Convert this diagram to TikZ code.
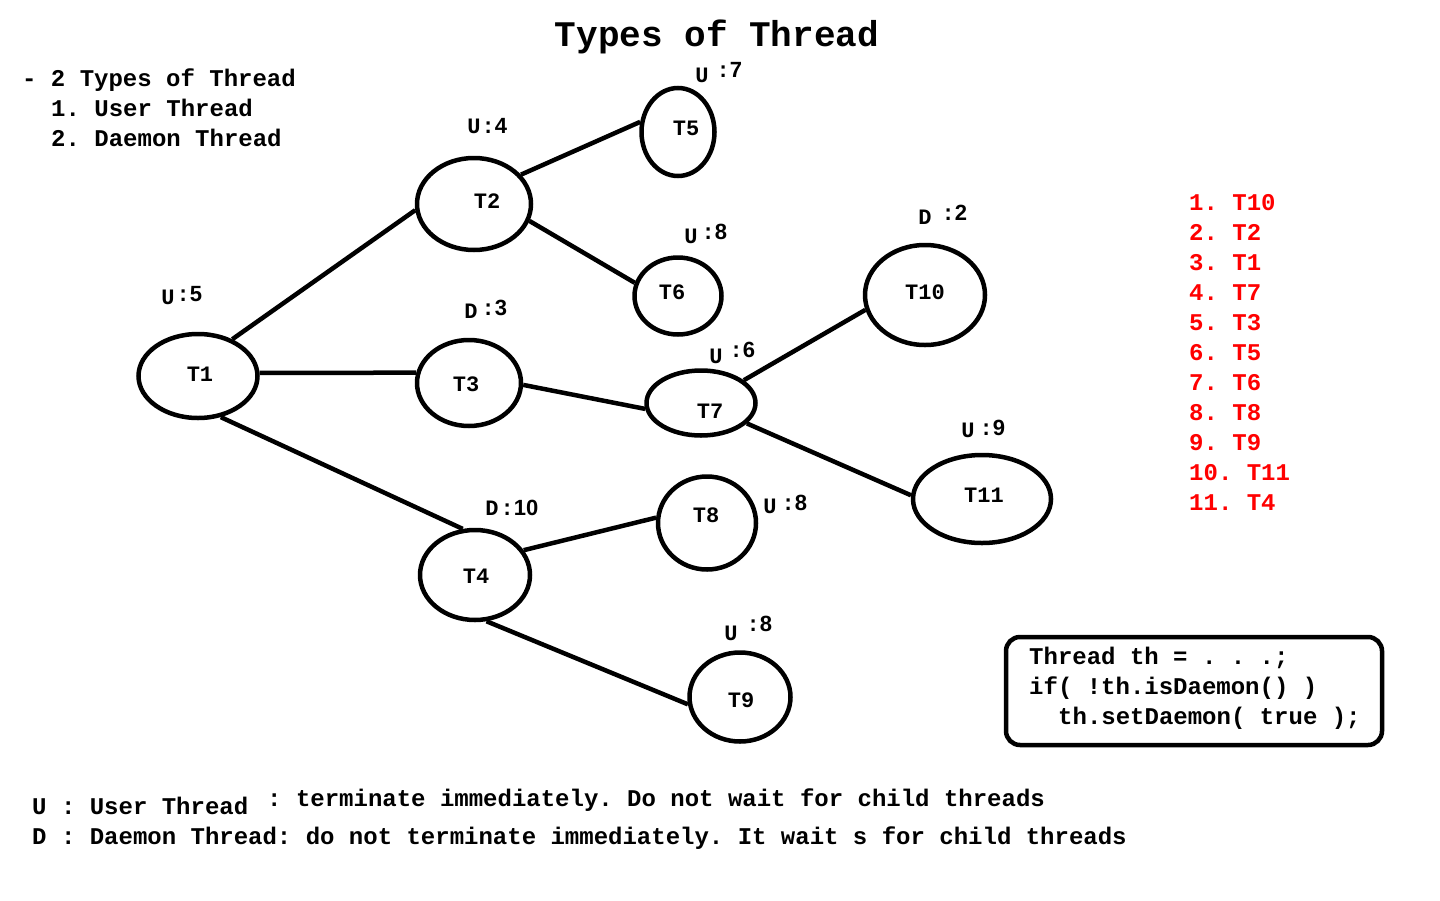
\documentclass[tikz,border=0pt]{standalone}
\usepackage{fontspec}
\setmainfont{Liberation Mono}
\newfontfamily\digitfont{Liberation Sans}
\usetikzlibrary{shapes.geometric}
\frenchspacing
\tikzset{
  thread/.style={draw, ellipse, line width=4.5pt, inner sep=0pt},
  conn/.style={line width=4.5pt},
  txt/.style={inner sep=0pt, anchor=base west, font=\bfseries\fontsize{24}{28}\selectfont},
  redtxt/.style={txt, text=red},
  tname/.style={inner sep=0pt, font=\bfseries\fontsize{22}{26}\selectfont},
  tletter/.style={inner sep=0pt, font=\bfseries\fontsize{22}{26}\selectfont},
  tnum/.style={inner sep=0pt, anchor=west, font=\bfseries\fontsize{22}{26}\selectfont},
  codebox/.style={draw, rounded corners=14pt, line width=4.5pt, inner sep=0pt},
}
\newcommand\numlab[1]{:{\digitfont\bfseries #1}}
\begin{document}
\begin{tikzpicture}[x=1pt, y=-1pt]
\fill[white] (0,0) rectangle (1440,900);
\useasboundingbox (0,0) rectangle (1440,900);

% title and intro
\node[inner sep=0pt, anchor=base, font=\bfseries\fontsize{36}{40}\selectfont] (title) at (717,46) {Types of Thread};
\node[txt] (intro0) at (22,86) {- 2 Types of Thread};
\node[txt] (intro1) at (51,116) {1. User Thread};
\node[txt] (intro2) at (51,146) {2. Daemon Thread};

% threads
\node[thread, minimum width=119pt, minimum height=84pt] (t1) at (198,376) {};
\node[thread, minimum width=114pt, minimum height=92pt] (t2) at (474,204) {};
\node[thread, minimum width=104pt, minimum height=86pt] (t3) at (469,383) {};
\node[thread, minimum width=110pt, minimum height=90pt] (t4) at (475,575) {};
\node[thread, minimum width=73pt, minimum height=88pt] (t5) at (678,132) {};
\node[thread, minimum width=87pt, minimum height=77pt] (t6) at (678,296) {};
\node[thread, minimum width=109pt, minimum height=65pt] (t7) at (701,403) {};
\node[thread, minimum width=98pt, minimum height=93pt] (t8) at (707,523) {};
\node[thread, minimum width=101pt, minimum height=89pt] (t9) at (740,697) {};
\node[thread, minimum width=120pt, minimum height=100pt] (t10) at (925,295) {};
\node[thread, minimum width=138pt, minimum height=88pt] (t11) at (982,499) {};

\node[tname] (n1) at (200,374) {T1};
\node[tname] (n2) at (487,201) {T2};
\node[tname] (n3) at (466,384) {T3};
\node[tname] (n4) at (476,576) {T4};
\node[tname] (n5) at (686,128) {T5};
\node[tname] (n6) at (672,292) {T6};
\node[tname] (n7) at (710,411) {T7};
\node[tname] (n8) at (706,515) {T8};
\node[tname] (n9) at (741,700) {T9};
\node[tname] (n10) at (925,292) {T10};
\node[tname] (n11) at (984,495) {T11};

% connectors
\draw[conn] (t1.47) -- (t2.186);
\draw[conn] (t1.3) -- (t3.169);
\draw[conn] (t1.-61) -- (t4.105);
\draw[conn] (t2.32) -- (t5.165);
\draw[conn] (t2.-17) -- (t6.163);
\draw[conn] (t3.-2) -- (t7.186);
\draw[conn] (t7.28) -- (t10.194);
\draw[conn] (t7.-24) -- (t11.177);
\draw[conn] (t4.27) -- (t8.174);
\draw[conn] (t4.-76) -- (t9.188);

% type / priority labels
\node[tletter] (k1) at (168,297) {U};   \node[tnum] (p1) at (176.4,294) {\numlab{5}};
\node[tletter] (k2) at (474,126) {U};   \node[tnum] (p2) at (481.4,126) {\numlab{4}};
\node[tletter] (k3) at (471,311) {D};   \node[tnum] (p3) at (481.4,308) {\numlab{3}};
\node[tletter] (k4) at (492,508) {D};   \node[tnum] (p4) at (500.4,508) {\numlab{10}};
\node[tletter] (k5) at (702,75) {U};    \node[tnum] (p5) at (716.4,70) {\numlab{7}};
\node[tletter] (k6) at (691,236) {U};   \node[tnum] (p6) at (701.4,232) {\numlab{8}};
\node[tletter] (k7) at (716,356) {U};   \node[tnum] (p7) at (729.4,350) {\numlab{6}};
\node[tletter] (k10) at (925,217) {D};  \node[tnum] (p10) at (941.4,213) {\numlab{2}};
\node[tletter] (k11) at (968,430) {U};  \node[tnum] (p11) at (979.4,428) {\numlab{9}};
\node[tletter] (k8) at (770,506) {U};   \node[tnum] (p8) at (781.4,503) {\numlab{8}};
\node[tletter] (k9) at (731,633) {U};   \node[tnum] (p9) at (746.4,624) {\numlab{8}};

% red order list
\node[redtxt] (r1) at (1189,210) {1. T10};
\node[redtxt] (r2) at (1189,240) {2. T2};
\node[redtxt] (r3) at (1189,270) {3. T1};
\node[redtxt] (r4) at (1189,300) {4. T7};
\node[redtxt] (r5) at (1189,330) {5. T3};
\node[redtxt] (r6) at (1189,360) {6. T5};
\node[redtxt] (r7) at (1189,390) {7. T6};
\node[redtxt] (r8) at (1189,420) {8. T8};
\node[redtxt] (r9) at (1189,450) {9. T9};
\node[redtxt] (r10) at (1189,480) {10. T11};
\node[redtxt] (r11) at (1189,510) {11. T4};

% code box
\node[codebox, minimum width=376pt, minimum height=108pt] (code) at (1194,691) {};
\node[txt] (c1) at (1029,664) {Thread th = . . .;};
\node[txt] (c2) at (1029,694) {if( !th.isDaemon() )};
\node[txt] (c3) at (1058,724) {th.setDaemon( true );};

% legend
\node[txt] (u1) at (32,814) {U : User Thread};
\node[txt] (u2) at (267,806) {: terminate immediately. Do not wait for child threads};
\node[txt] (d1) at (32,844) {D : Daemon Thread: do not terminate immediately. It wait s for child threads};
\end{tikzpicture}
\end{document}
